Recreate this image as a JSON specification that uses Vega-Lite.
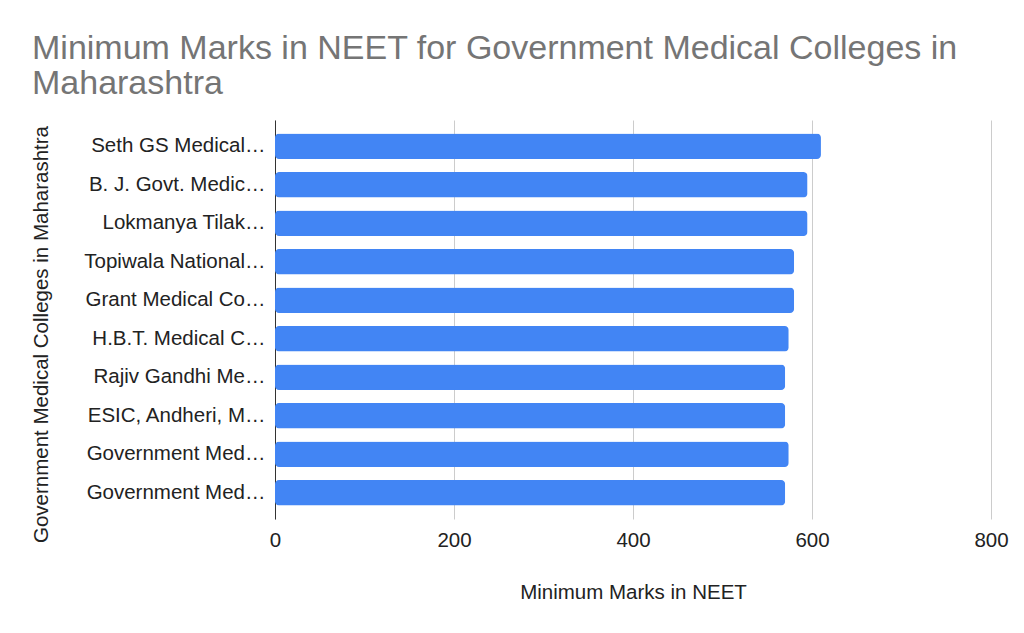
{
  "$schema": "https://vega.github.io/schema/vega-lite/v6.json",
  "description": "Minimum NEET marks, government medical colleges in Maharashtra",
  "autosize": {"type": "none"},
  "width": 716,
  "height": 399,
  "padding": {"left": 275, "top": 120, "right": 33, "bottom": 114},
  "background": "white",
  "title": {
    "text": ["Minimum Marks in NEET for Government Medical Colleges in", "Maharashtra"],
    "anchor": "start",
    "frame": "group",
    "dx": -243,
    "offset": 19,
    "font": "Liberation Sans",
    "fontSize": 34,
    "fontWeight": "normal",
    "color": "#757575",
    "lineHeight": 35
  },
  "data": {
    "values": [
      {"college": "Seth GS Medical…", "marks": 610},
      {"college": "B. J. Govt. Medic…", "marks": 595},
      {"college": "Lokmanya Tilak…", "marks": 595},
      {"college": "Topiwala National…", "marks": 580},
      {"college": "Grant Medical Co…", "marks": 580},
      {"college": "H.B.T. Medical C…", "marks": 574},
      {"college": "Rajiv Gandhi Me…", "marks": 570},
      {"college": "ESIC, Andheri, M…", "marks": 570},
      {"college": "Government Med…", "marks": 574},
      {"college": "Government Med… ", "marks": 570}
    ]
  },
  "mark": {"type": "bar", "color": "#4285F4", "cornerRadius": 4},
  "encoding": {
    "y": {
      "field": "college",
      "type": "nominal",
      "sort": null,
      "scale": {"paddingInner": 0.34, "paddingOuter": 0.35},
      "axis": {
        "title": "Government Medical Colleges in Maharashtra",
        "ticks": false,
        "domainColor": "#333333",
        "labelPadding": 10,
        "labelLimit": 300,
        "titlePadding": 32,
        "titleY": 214
      }
    },
    "x": {
      "field": "marks",
      "type": "quantitative",
      "scale": {"domain": [0, 800]},
      "axis": {
        "title": "Minimum Marks in NEET",
        "values": [0, 200, 400, 600, 800],
        "domain": false,
        "ticks": false,
        "labelFlush": false,
        "gridColor": "#cccccc",
        "labelPadding": 11,
        "titlePadding": 32
      }
    }
  },
  "config": {
    "view": {"stroke": null},
    "axis": {
      "labelFont": "Liberation Sans",
      "titleFont": "Liberation Sans",
      "labelFontSize": 20.5,
      "titleFontSize": 20.5,
      "titleFontWeight": "normal",
      "labelColor": "#222222",
      "titleColor": "#222222"
    }
  }
}
